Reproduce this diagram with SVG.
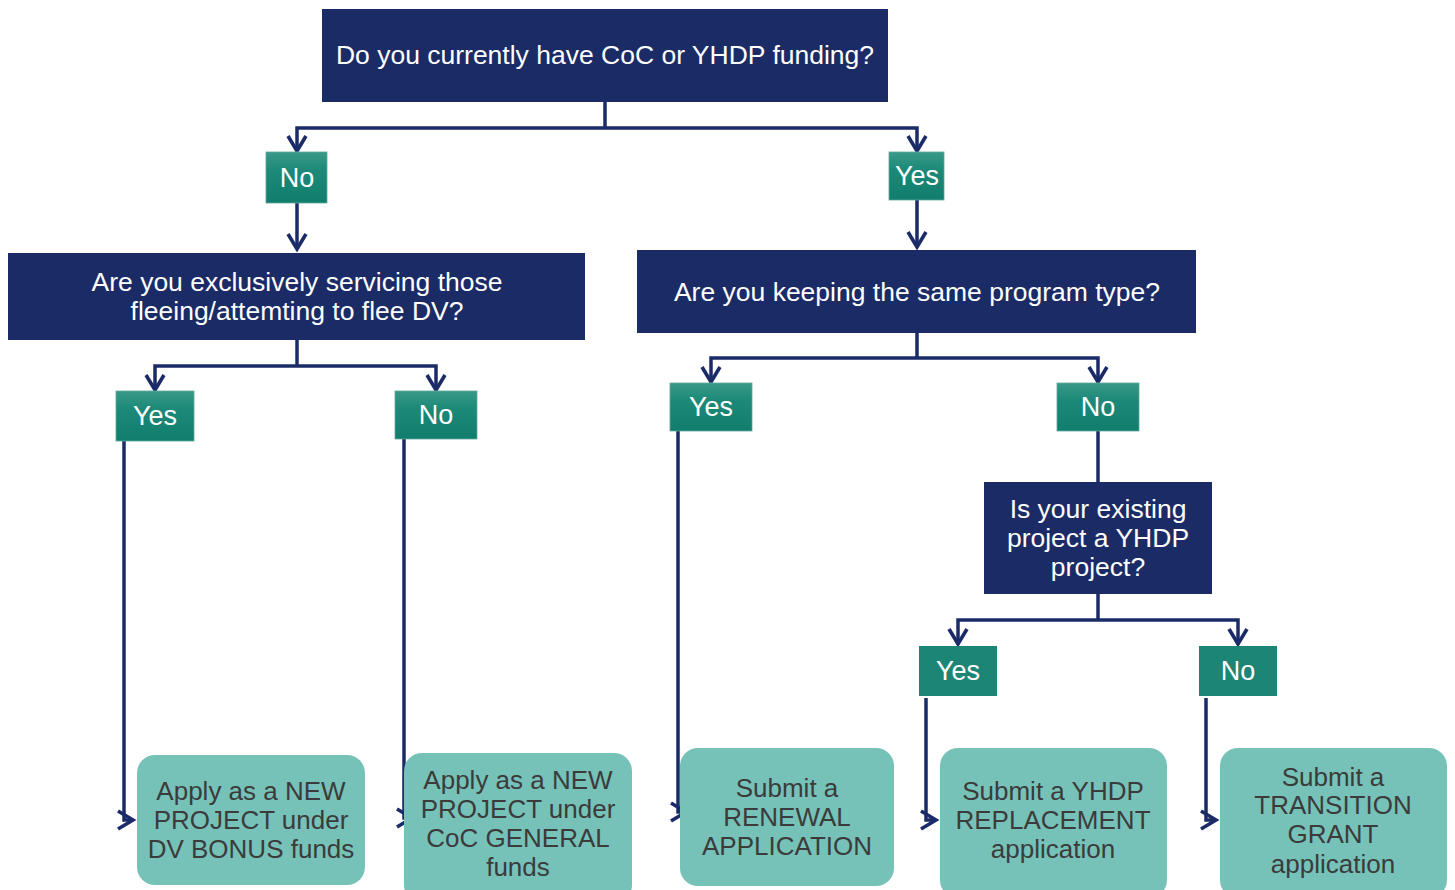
<svg xmlns="http://www.w3.org/2000/svg" width="1455" height="890" viewBox="0 0 1455 890">
<defs>
<linearGradient id="tg" x1="0" y1="0" x2="0" y2="1">
<stop offset="0" stop-color="#3A9988"/>
<stop offset="0.35" stop-color="#1D8A79"/>
<stop offset="1" stop-color="#117D6D"/>
</linearGradient>
<marker id="chev" viewBox="0 0 24 24" refX="20" refY="12" markerWidth="24" markerHeight="24" markerUnits="userSpaceOnUse" orient="auto">
<path d="M5,3 L20,12 L5,21" fill="none" stroke="#1B2B68" stroke-width="3.6" stroke-linejoin="miter"/>
</marker>
<style>
.q{fill:#1A2B66}
.qt{fill:#FFFFFF;font-family:"Liberation Sans",Arial,sans-serif;font-size:26.5px;text-anchor:middle}
.l{fill:url(#tg);stroke:#5FA89C;stroke-width:0.8}
.lf{fill:#1D8576}
.lt{fill:#FFFFFF;font-family:"Liberation Sans",Arial,sans-serif;font-size:27px;text-anchor:middle}
.r{fill:#76C2B9}
.rt{fill:#3B3B3B;font-family:"Liberation Sans",Arial,sans-serif;font-size:26px;text-anchor:middle}
.c{fill:none;stroke:#1B2B68;stroke-width:3.5}
.ca{fill:none;stroke:#1B2B68;stroke-width:3.5;marker-end:url(#chev)}
</style>
</defs>
<g id="connectors">
<path class="c" d="M605,102 V128"/>
<path class="ca" d="M605,128 H297 V151"/>
<path class="ca" d="M605,128 H917 V151"/>
<path class="ca" d="M297,203 V249"/>
<path class="ca" d="M917,200 V247"/>
<path class="c" d="M297,340 V366"/>
<path class="ca" d="M297,366 H155 V390"/>
<path class="ca" d="M297,366 H436 V390"/>
<path class="c" d="M917,333 V358"/>
<path class="ca" d="M917,358 H711 V382"/>
<path class="ca" d="M917,358 H1098 V382"/>
<path class="c" d="M1098,431 V482"/>
<path class="c" d="M1098,594 V620"/>
<path class="ca" d="M1098,620 H958 V644"/>
<path class="ca" d="M1098,620 H1238 V644"/>
<path class="ca" d="M124,441 V820 H133"/>
<path class="ca" d="M404,439 V818 H412"/>
<path class="ca" d="M678,431 V812 H686"/>
<path class="ca" d="M926,698 V820 H936"/>
<path class="ca" d="M1206,698 V820 H1216"/>
</g>
<g id="q1"><rect class="q" x="322" y="9" width="566" height="93"/><text class="qt" x="605" y="64">Do you currently have CoC or YHDP funding?</text></g>
<g id="no1"><rect class="l" x="266" y="152" width="61" height="51"/><text class="lt" x="297" y="187">No</text></g>
<g id="yes1"><rect class="l" x="889" y="152" width="55" height="48"/><text class="lt" x="917" y="185">Yes</text></g>
<g id="q2"><rect class="q" x="8" y="253" width="577" height="87"/><text class="qt" x="297" y="291">Are you exclusively servicing those</text><text class="qt" x="297" y="320">fleeing/attemting to flee DV?</text></g>
<g id="q3"><rect class="q" x="637" y="250" width="559" height="83"/><text class="qt" x="917" y="301">Are you keeping the same program type?</text></g>
<g id="yes2"><rect class="l" x="116" y="391" width="78" height="50"/><text class="lt" x="155" y="425">Yes</text></g>
<g id="no2"><rect class="l" x="395" y="391" width="82" height="48"/><text class="lt" x="436" y="424">No</text></g>
<g id="yes3"><rect class="l" x="670" y="383" width="82" height="48"/><text class="lt" x="711" y="416">Yes</text></g>
<g id="no3"><rect class="l" x="1057" y="383" width="82" height="48"/><text class="lt" x="1098" y="416">No</text></g>
<g id="q4"><rect class="q" x="984" y="482" width="228" height="112"/><text class="qt" x="1098" y="518">Is your existing</text><text class="qt" x="1098" y="547">project a YHDP</text><text class="qt" x="1098" y="576">project?</text></g>
<g id="yes4"><rect class="lf" x="919" y="646" width="78" height="50"/><text class="lt" x="958" y="680">Yes</text></g>
<g id="no4"><rect class="lf" x="1199" y="646" width="78" height="50"/><text class="lt" x="1238" y="680">No</text></g>
<g id="r1"><rect class="r" x="137" y="755" width="228" height="130" rx="18"/><text class="rt" x="251" y="800">Apply as a NEW</text><text class="rt" x="251" y="829">PROJECT under</text><text class="rt" x="251" y="858">DV BONUS funds</text></g>
<g id="r2"><rect class="r" x="404" y="753" width="228" height="150" rx="18"/><text class="rt" x="518" y="789">Apply as a NEW</text><text class="rt" x="518" y="818">PROJECT under</text><text class="rt" x="518" y="847">CoC GENERAL</text><text class="rt" x="518" y="876">funds</text></g>
<g id="r3"><rect class="r" x="680" y="748" width="214" height="138" rx="18"/><text class="rt" x="787" y="797">Submit a</text><text class="rt" x="787" y="826">RENEWAL</text><text class="rt" x="787" y="855">APPLICATION</text></g>
<g id="r4"><rect class="r" x="940" y="748" width="227" height="150" rx="18"/><text class="rt" x="1053" y="800">Submit a YHDP</text><text class="rt" x="1053" y="829">REPLACEMENT</text><text class="rt" x="1053" y="858">application</text></g>
<g id="r5"><rect class="r" x="1220" y="748" width="227" height="150" rx="18"/><text class="rt" x="1333" y="786">Submit a</text><text class="rt" x="1333" y="814">TRANSITION</text><text class="rt" x="1333" y="843">GRANT</text><text class="rt" x="1333" y="873">application</text></g>
</svg>
